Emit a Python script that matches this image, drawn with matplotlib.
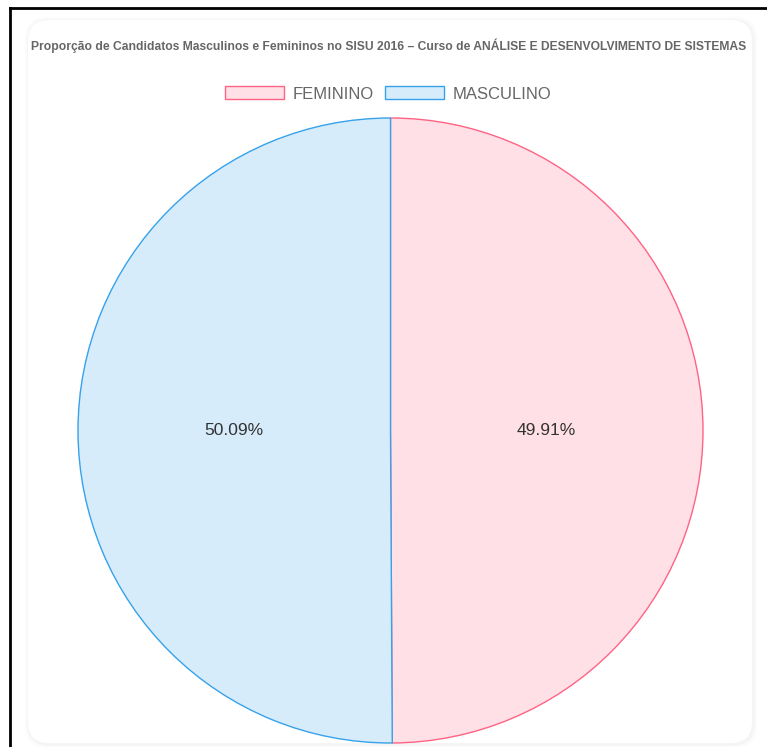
import matplotlib.pyplot as plt
from matplotlib.patches import FancyBboxPatch, Patch
from matplotlib.lines import Line2D

# data
labels = ['FEMININO', 'MASCULINO']
values = [49.91, 50.09]
fill_colors = ['#FFE0E6', '#D7ECFB']
edge_colors = ['#FF6384', '#36A2EB']
title = 'Proporção de Candidatos Masculinos e Femininos no SISU 2016 – Curso de ANÁLISE E DESENVOLVIMENTO DE SISTEMAS'

W, H = 767, 747
fig = plt.figure(figsize=(W / 100, H / 100), dpi=100)
fig.patch.set_facecolor('white')


def px(x, y):
    # pixel coords (top-left origin) -> figure fraction
    return x / W, 1 - y / H


# screenshot frame (top and left only)
fig.add_artist(Line2D([10 / W, 1], [1 - 8 / H] * 2, color='black', lw=2, transform=fig.transFigure, zorder=5))
fig.add_artist(Line2D([10 / W] * 2, [1 - 8 / H, 0], color='black', lw=2, transform=fig.transFigure, zorder=5))

# card with soft shadow
for off, a in [(4, 0.015), (2, 0.025)]:
    sh = FancyBboxPatch(px(28 - off + 1, 743 + off + 1), (724 + 2 * off) / W, (723 + 2 * off) / H,
                        boxstyle='round,pad=0,rounding_size=0.03', transform=fig.transFigure,
                        facecolor='black', edgecolor='none', alpha=a, zorder=-3)
    fig.add_artist(sh)
card = FancyBboxPatch(px(28, 743), 724 / W, 723 / H, boxstyle='round,pad=0,rounding_size=0.028',
                      transform=fig.transFigure, facecolor='white', edgecolor='none', zorder=-2)
fig.add_artist(card)

# title, sized to span the card like the narrow bold font in the reference
t = fig.text(*px(389, 46), title, ha='center', va='center', fontsize=9, fontweight='bold',
             color='#666666', family='Liberation Sans')
fig.canvas.draw()
tw = t.get_window_extent().width
t.set_fontsize(9 * 716 / tw)

# pie
cx, cy, r = 390.5, 430.5, 312.5
ax = fig.add_axes([(cx - r) / W, (H - cy - r) / H, 2 * r / W, 2 * r / H], zorder=2)
wedges, texts, autotexts = ax.pie(values, colors=fill_colors, startangle=90, counterclock=False,
                                  autopct='%.2f%%', pctdistance=0.5,
                                  wedgeprops=dict(linewidth=1.0),
                                  textprops=dict(fontsize=12.5, color='#333333', family='Liberation Sans'))
for w, ec in zip(wedges, edge_colors):
    w.set_edgecolor(ec)
ax.set_xlim(-1, 1)
ax.set_ylim(-1, 1)
ax.set_aspect('equal')
ax.axis('off')

# legend
handles = [Patch(facecolor=f, edgecolor=e, linewidth=1) for f, e in zip(fill_colors, edge_colors)]
fig.legend(handles, labels, loc='center', bbox_to_anchor=px(388, 94), ncol=2, frameon=False,
           prop=dict(family='Liberation Sans', size=12), labelcolor='#666666',
           handlelength=3.55, handleheight=0.8, handletextpad=0.48, columnspacing=0.7)

fig.savefig('out.png', dpi=100)
